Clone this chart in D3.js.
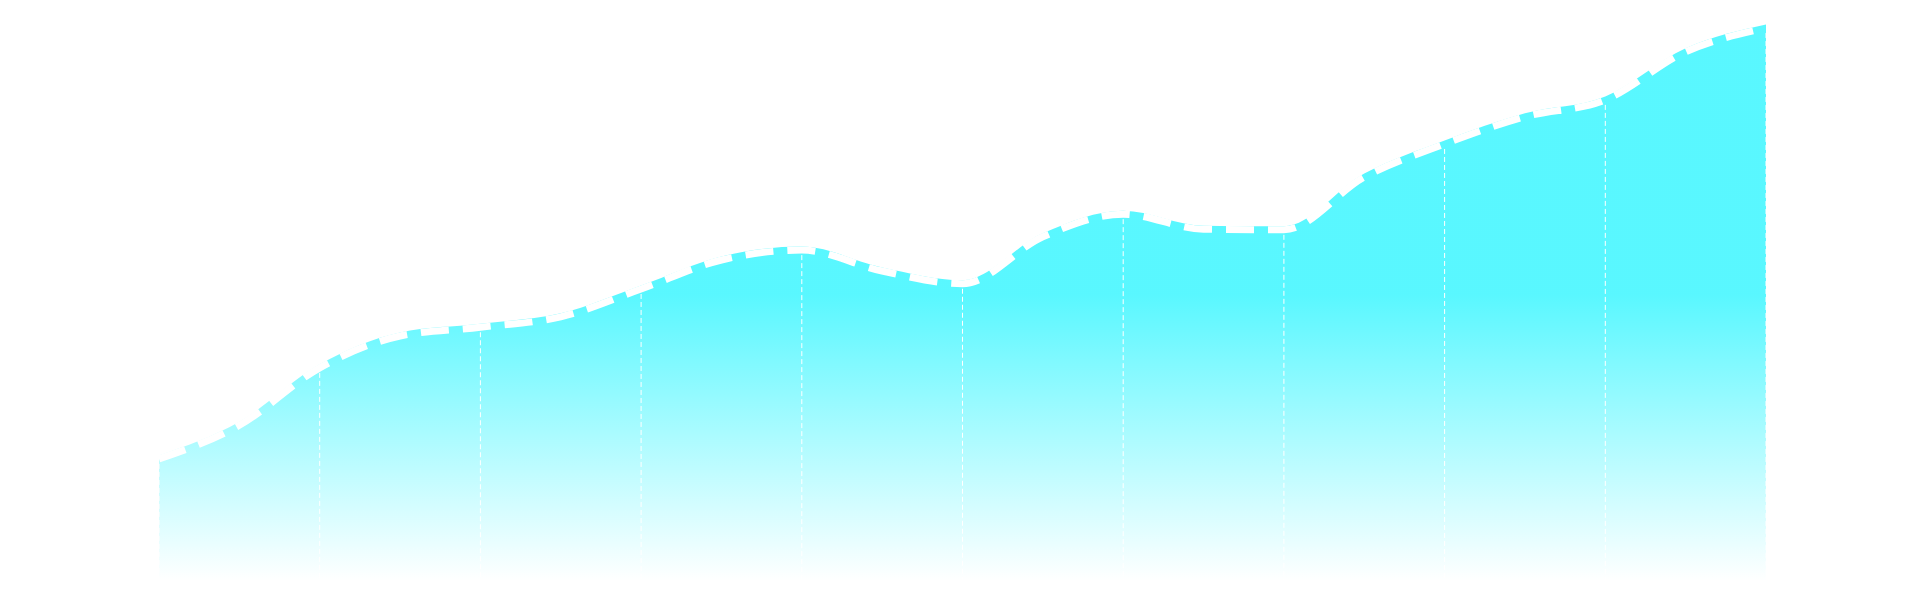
<!DOCTYPE html>
<html>
<head>
<meta charset="utf-8">
<script src="https://cdn.jsdelivr.net/npm/d3@7"></script>
<style>
  html, body { margin: 0; padding: 0; background: #fff; }
  svg { display: block; }
</style>
</head>
<body>
<svg width="1920" height="610"></svg>
<script>
// points, one every half step between the white guides
const categories = ["1", "2", "3", "4", "5", "6", "7", "8", "9", "10", "11",
  "12", "13", "14", "15", "16", "17", "18", "19", "20", "21"];
const values = [22.6, 28.4, 38.3, 43.8, 45.3, 47.1, 51.9, 56.9, 58.6, 55.0, 52.8,
  60.9, 64.8, 62.2, 62.1, 71.2, 76.9, 81.6, 84.5, 92.8, 96.9];
const guideEvery = 2; // a dashed guide on every other point

const svg = d3.select("svg");
const width = 1920, height = 610;
const margin = { top: 10, right: 154, bottom: 20, left: 159 };
const lineW = 7;

const x = d3.scalePoint()
  .domain(categories)
  .range([margin.left, width - margin.right]);

const y = d3.scaleLinear()
  .domain([0, 100])
  .range([height - margin.bottom, margin.top]);

const data = categories.map((c, i) => ({ cat: c, value: values[i], i }));

// fill fades out toward the bottom, measured in page space
const grad = svg.append("defs").append("linearGradient")
  .attr("id", "fade")
  .attr("gradientUnits", "userSpaceOnUse")
  .attr("x1", 0).attr("y1", 0)
  .attr("x2", 0).attr("y2", y(0));
grad.selectAll("stop")
  .data([
    { o: 0, a: 0.65 },
    { o: 0.5, a: 0.65 },
    { o: 0.985, a: 0 }
  ])
  .join("stop")
  .attr("offset", d => d.o)
  .attr("stop-color", "#00f3ff")
  .attr("stop-opacity", d => d.a);

// top edge sits at the upper side of the line so the gaps show fill
const area = d3.area()
  .x(d => x(d.cat))
  .y0(y(0))
  .y1(d => y(d.value) - lineW / 2)
  .curve(d3.curveMonotoneX);

const line = d3.line()
  .x(d => x(d.cat))
  .y(d => y(d.value))
  .curve(d3.curveMonotoneX);

svg.append("path")
  .datum(data)
  .attr("d", area)
  .attr("fill", "url(#fade)");

// vertical guides
svg.append("g")
  .selectAll("line")
  .data(data.filter(d => d.i % guideEvery === 0))
  .join("line")
  .attr("x1", d => x(d.cat))
  .attr("x2", d => x(d.cat))
  .attr("y1", d => y(d.value) + 5)
  .attr("y2", y(0))
  .attr("stroke", "#fff")
  .attr("stroke-width", 1)
  .attr("stroke-dasharray", "5,3");

svg.append("path")
  .datum(data)
  .attr("d", line)
  .attr("fill", "none")
  .attr("stroke", "#fff")
  .attr("stroke-width", lineW)
  .attr("stroke-dasharray", "28,14");
</script>
</body>
</html>
